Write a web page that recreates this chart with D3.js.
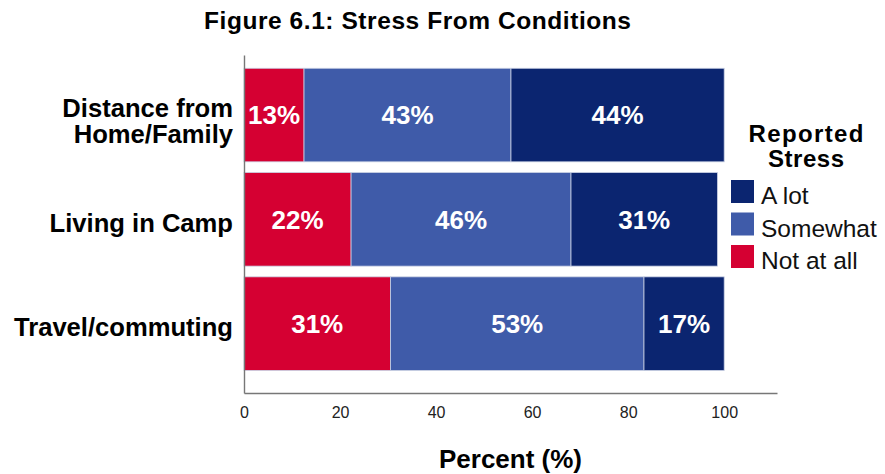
<!DOCTYPE html>
<html>
<head>
<meta charset="utf-8">
<script src="https://cdn.jsdelivr.net/npm/d3@7"></script>
<style>
  html, body { margin: 0; padding: 0; background: #fff; }
  svg { display: block; font-family: "Liberation Sans", Arial, sans-serif; }
</style>
</head>
<body>
<svg id="chart" width="885" height="474"></svg>
<script>
// ---- data ----
const categories = ["Distance from Home/Family", "Living in Camp", "Travel/commuting"];
const categoryLines = [["Distance from", "Home/Family"], ["Living in Camp"], ["Travel/commuting"]];
const seriesNames = ["Not at all", "Somewhat", "A lot"];
const notAtAll = [12.5, 22.3, 30.5];
const somewhat = [43.1, 45.8, 52.8];
const aLot = [44.4, 30.5, 16.7];
const xTicks = [0, 20, 40, 60, 80, 100];
const legendOrder = ["A lot", "Somewhat", "Not at all"];
const colors = { "Not at all": "#D50032", "Somewhat": "#3F5BA9", "A lot": "#0B2570" };

const rows = categories.map((c, i) => ({
  category: c,
  "Not at all": notAtAll[i],
  "Somewhat": somewhat[i],
  "A lot": aLot[i]
}));

const svg = d3.select("#chart");
const x = d3.scaleLinear().domain([0, 111]).range([244, 777]);
const y = d3.scaleBand().domain(categories).range([55, 393])
  .paddingInner(0.103).paddingOuter(0.172).align(0.37);

const stack = d3.stack().keys(seriesNames);
const layers = stack(rows);

// bars
const g = svg.append("g");
layers.forEach(layer => {
  g.selectAll(null).data(layer).enter().append("rect")
    .attr("x", d => x(d[0]))
    .attr("y", d => y(d.data.category))
    .attr("width", d => x(d[1]) - x(d[0]))
    .attr("height", y.bandwidth())
    .attr("fill", colors[layer.key])
    .attr("stroke", "#c9d0e3")
    .attr("stroke-width", 0.8);
  g.selectAll(null).data(layer).enter().append("text")
    .attr("x", d => (x(d[0]) + x(d[1])) / 2)
    .attr("y", d => y(d.data.category) + y.bandwidth() / 2)
    .attr("dy", "0.36em")
    .attr("text-anchor", "middle")
    .attr("fill", "#fff")
    .style("font-size", "26px")
    .style("font-weight", "bold")
    .text(d => Math.round(d[1] - d[0]) + "%");
});

// x axis
const xAxis = svg.append("g")
  .attr("transform", "translate(0,393)")
  .call(d3.axisBottom(x).tickValues(xTicks).tickSize(0).tickPadding(14).tickSizeOuter(0));
xAxis.select(".domain").attr("stroke", "#777").attr("stroke-width", 1.4);
xAxis.selectAll("text").style("font-size", "16px").attr("fill", "#222")
  .style("font-family", "\"Liberation Sans\", Arial, sans-serif");

// y axis
const yAxis = svg.append("g")
  .attr("transform", "translate(244,0)")
  .call(d3.axisLeft(y).tickSize(0).tickSizeOuter(0).tickPadding(11).tickFormat(""));
yAxis.select(".domain").attr("stroke", "#777").attr("stroke-width", 1.4);
yAxis.selectAll(".tick").each(function (d, i) {
  const lines = categoryLines[i];
  const t = d3.select(this).select("text")
    .attr("fill", "#000")
    .style("font-size", "25.6px")
    .style("font-weight", "bold")
    .style("font-family", "\"Liberation Sans\", Arial, sans-serif")
    .attr("dy", null)
    .attr("x", -11);
  const lh = 26.3;
  const startOffset = 3 + 9.2 - (lines.length - 1) * lh / 2 + (lines.length > 1 ? 2.5 : 0);
  lines.forEach((ln, k) => {
    t.append("tspan").attr("x", -11).attr("y", startOffset + k * lh).text(ln);
  });
});

// title
svg.append("text")
  .attr("x", 417.5).attr("y", 29.3)
  .attr("text-anchor", "middle")
  .style("font-size", "24.5px").style("font-weight", "bold")
  .attr("textLength", 427).attr("lengthAdjust", "spacing")
  .text("Figure 6.1: Stress From Conditions");

// x title
svg.append("text")
  .attr("x", (x.range()[0] + x.range()[1]) / 2).attr("y", 468)
  .attr("text-anchor", "middle")
  .style("font-size", "26px").style("font-weight", "bold")
  .text("Percent (%)");

// legend
const lg = svg.append("g");
lg.append("text").attr("x", 806).attr("y", 142).attr("text-anchor", "middle")
  .style("font-size", "24px").style("font-weight", "bold")
  .attr("textLength", 115).attr("lengthAdjust", "spacing").text("Reported");
lg.append("text").attr("x", 806).attr("y", 166.7).attr("text-anchor", "middle")
  .style("font-size", "24px").style("font-weight", "bold")
  .attr("textLength", 76).attr("lengthAdjust", "spacing").text("Stress");
legendOrder.forEach((k, i) => {
  const yy = 180 + i * 32.5;
  lg.append("rect").attr("x", 731).attr("y", yy).attr("width", 23).attr("height", 23)
    .attr("fill", colors[k]);
  lg.append("text").attr("x", 761).attr("y", yy + 24)
    .style("font-size", "24.5px").attr("fill", "#111").text(k);
});
</script>
</body>
</html>
